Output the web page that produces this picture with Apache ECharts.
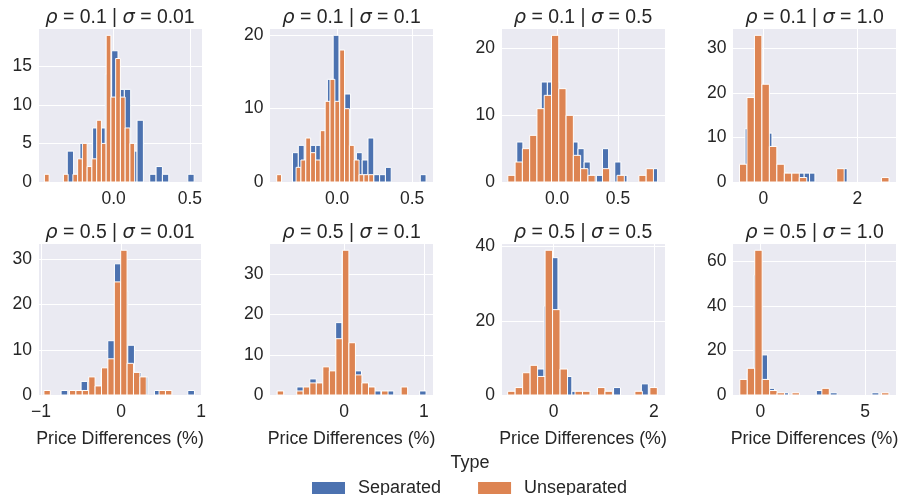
<!DOCTYPE html>
<html><head><meta charset="utf-8">
<script src="https://cdn.jsdelivr.net/npm/echarts@6/dist/echarts.min.js"></script>
<style>html,body{margin:0;padding:0;background:#fff}#c{width:898px;height:495px}</style>
</head><body><div id="c"></div>
<script>
// ---- panel facets ----
const rhoValues   = ['0.1','0.1','0.1','0.1','0.5','0.5','0.5','0.5'];
const sigmaValues = ['0.01','0.1','0.5','1.0','0.01','0.1','0.5','1.0'];
const seriesNames = ['Separated','Unseparated'];
const xAxisName = 'Price Differences (%)';
const legendTitle = 'Type';

// ---- Separated histograms: first bin edge, bin width, counts ----
const sepStart = [-0.305, -0.2976, -0.3315, -0.389, -0.748, -0.591, -0.746, -0.981];
const sepWidth = [0.04167, 0.0387, 0.0503, 0.1142, 0.0832, 0.0809, 0.1386, 0.332];
const sepCounts1 = [4,1,5,2,7,7,14,17,12,12,4,8,0,1,2,1,0,0,0,1];
const sepCounts2 = [4,5,3,5,5,5,14,20,8,12,2,4,3,6,1,1,2,0,0,0,0,0,1];
const sepCounts3 = [6,3,5,5,15,15,15,8,5,6,5,3,1,1,5,0,3,1,0,0,0,0,2];
const sepCounts4 = [12,17,25,15,11,4,3,2,1,1,2,2,2,0,0,0,0,0,3];
const sepCounts5 = [1,0,1,3,3,2,5,12,29,23,11,5,4,0,1,0,0,0,0,1];
const sepCounts6 = [2,1,4,3,6,5,18,35,12,6,3,2,1,0,1,0,0,0,0,1];
const sepCounts7 = [1,4,6,7,24,37,6,5,1,1,0,0,1,1,2,0,0,0,3];
const sepCounts8 = [5,10,54,18,3,1,1,0,0,0,0,2,0,1,0,0,0,0,0,1];

// ---- Unseparated histograms ----
const unsStart = [-0.455, -0.403, -0.405, -0.509, -0.962, -0.838, -0.917, -0.981];
const unsWidth = [0.0312, 0.0323, 0.0598, 0.159, 0.0798, 0.0817, 0.1492, 0.356];
const unsCounts1 = [1,0,0,0,1,0,1,3,5,2,3,8,5,19,11,16,11,7,5];
const unsCounts2 = [1,0,0,0,2,3,6,4,3,7,11,14,11,18,10,5,3,1,1,1];
const unsCounts3 = [1,3,5,7,11,13,22,14,10,4,2,1,0,2,0,1,0,0,1,2];
const unsCounts4 = [4,19,33,22,8,4,2,2,1,0,0,0,0,3,0,0,0,0,0,1];
const unsCounts5 = [1,0,0,0,1,1,1,4,2,6,8,25,32,7,5,4,0,0,1,1];
const unsCounts6 = [1,0,0,1,2,3,3,7,6,14,36,13,5,3,2,0,1,0,0,2];
const unsCounts7 = [1,2,6,8,5,39,23,7,0,1,1,0,2,1,0,0,0,1,0,2];
const unsCounts8 = [7,12,65,7,2,1,0,1,0,0,0,3,0,0,0,0,0,0,0,1];

// ---- axis limits and tick steps ----
const xMin = [-0.497, -0.451, -0.461, -0.657, -1.036, -0.934, -1.05, -1.33];
const xMax = [0.58, 0.642, 0.886, 2.83, 1.01, 1.12, 2.22, 6.5];
const xStep = [0.5, 0.5, 0.5, 2, 1, 1, 2, 5];
const xDecimals = [1, 1, 1, 0, 0, 0, 0, 0];
const yMax = [19.95, 21, 23.1, 34.65, 33.6, 37.8, 40.95, 68.25];
const yStep = [5, 10, 10, 10, 10, 10, 20, 20];

const sepCounts = [sepCounts1,sepCounts2,sepCounts3,sepCounts4,sepCounts5,sepCounts6,sepCounts7,sepCounts8];
const unsCounts = [unsCounts1,unsCounts2,unsCounts3,unsCounts4,unsCounts5,unsCounts6,unsCounts7,unsCounts8];

// ---- layout / style ----
const FONT = '"Liberation Sans", Arial, Helvetica, sans-serif';
const GREEK = '"DejaVu Sans", sans-serif';
const TXT = '#262626';
const BLUE = '#4C72B0', ORANGE = '#DD8452';
const TICK_FS = 17.5, TITLE_FS = 19.4, NAME_FS = 17.8, LEGEND_FS = 18;
const colLefts = [38, 269.5, 501, 732.5];
const GW = 164;
const rowTops = [28, 243];
const rowHeights = [154, 152];

function bins(start, width, counts) {
  const out = [];
  counts.forEach((c, i) => { if (c > 0) out.push([start + i * width, start + (i + 1) * width, c]); });
  return out;
}
function renderBar(params, api) {
  const a = api.coord([api.value(0), 0]);
  const b = api.coord([api.value(1), api.value(2)]);
  return {
    type: 'rect',
    shape: { x: a[0], y: b[1], width: b[0] - a[0], height: a[1] - b[1] },
    style: { fill: api.visual('color'), stroke: '#ffffff', lineWidth: 1 }
  };
}
function fmt(dec) {
  return v => { const s = Math.abs(v).toFixed(dec); return (v < 0 ? '\u2212' : '') + s; };
}

const grids = [], xAxes = [], yAxes = [], series = [], titles = [];
for (let i = 0; i < 8; i++) {
  const r = Math.floor(i / 4), c = i % 4;
  grids.push({ left: colLefts[c], top: rowTops[r], width: GW, height: rowHeights[r],
    show: true, backgroundColor: '#EAEAF2', borderWidth: 0,
    containLabel: false, outerBoundsMode: 'none' });
  xAxes.push({
    type: 'value', gridIndex: i, min: xMin[i], max: xMax[i],
    minInterval: xStep[i], maxInterval: xStep[i],
    axisLine: { show: false }, axisTick: { show: false },
    splitLine: { show: true, lineStyle: { color: '#ffffff', width: 1 } },
    axisLabel: { showMinLabel: false, showMaxLabel: false, color: TXT, fontSize: TICK_FS,
      fontFamily: FONT, margin: 8, formatter: fmt(xDecimals[i]) },
    name: r === 1 ? xAxisName : '', nameLocation: 'middle', nameGap: 35,
    nameTextStyle: { color: TXT, fontSize: NAME_FS, fontFamily: FONT }
  });
  yAxes.push({
    type: 'value', gridIndex: i, min: 0, max: yMax[i], interval: yStep[i],
    axisLine: { show: false }, axisTick: { show: false },
    splitLine: { show: true, lineStyle: { color: '#ffffff', width: 1 } },
    axisLabel: { showMinLabel: true, showMaxLabel: false, color: TXT, fontSize: TICK_FS,
      fontFamily: FONT, margin: 6 }
  });
  series.push({ type: 'custom', name: seriesNames[0], xAxisIndex: i, yAxisIndex: i,
    data: bins(sepStart[i], sepWidth[i], sepCounts[i]), encode: { x: [0, 1], y: 2 },
    itemStyle: { color: BLUE }, renderItem: renderBar, z: 2 });
  series.push({ type: 'custom', name: seriesNames[1], xAxisIndex: i, yAxisIndex: i,
    data: bins(unsStart[i], unsWidth[i], unsCounts[i]), encode: { x: [0, 1], y: 2 },
    itemStyle: { color: ORANGE }, renderItem: renderBar, z: 3 });
  titles.push({
    text: '{g|\u03c1}{t| = ' + rhoValues[i] + ' | }{g|\u03c3}{t| = ' + sigmaValues[i] + '}',
    left: colLefts[c] + GW / 2 - 5, top: r === 0 ? 3 : 218, textAlign: 'center',
    textStyle: { fontSize: TITLE_FS, fontWeight: 'normal', color: TXT, fontFamily: FONT,
      rich: {
        g: { fontStyle: 'italic', fontFamily: GREEK, fontSize: TITLE_FS, color: TXT },
        t: { fontFamily: FONT, fontSize: TITLE_FS, color: TXT }
      } }
  });
}
titles.push({ text: legendTitle, left: 465, top: 449, textAlign: 'center',
  textStyle: { fontSize: 18, fontWeight: 'normal', color: TXT, fontFamily: FONT } });

const chart = echarts.init(document.getElementById('c'), null, { renderer: 'canvas' });
chart.setOption({
  animation: false,
  backgroundColor: '#ffffff',
  title: titles,
  grid: grids, xAxis: xAxes, yAxis: yAxes, series: series,
  legend: { data: seriesNames, left: 307, top: 474, itemWidth: 33, itemHeight: 12, itemGap: 37,
    icon: 'rect', selectedMode: false,
    textStyle: { fontSize: LEGEND_FS, color: TXT, fontFamily: FONT, padding: [0, 0, 0, 8] } }
});
</script></body></html>
